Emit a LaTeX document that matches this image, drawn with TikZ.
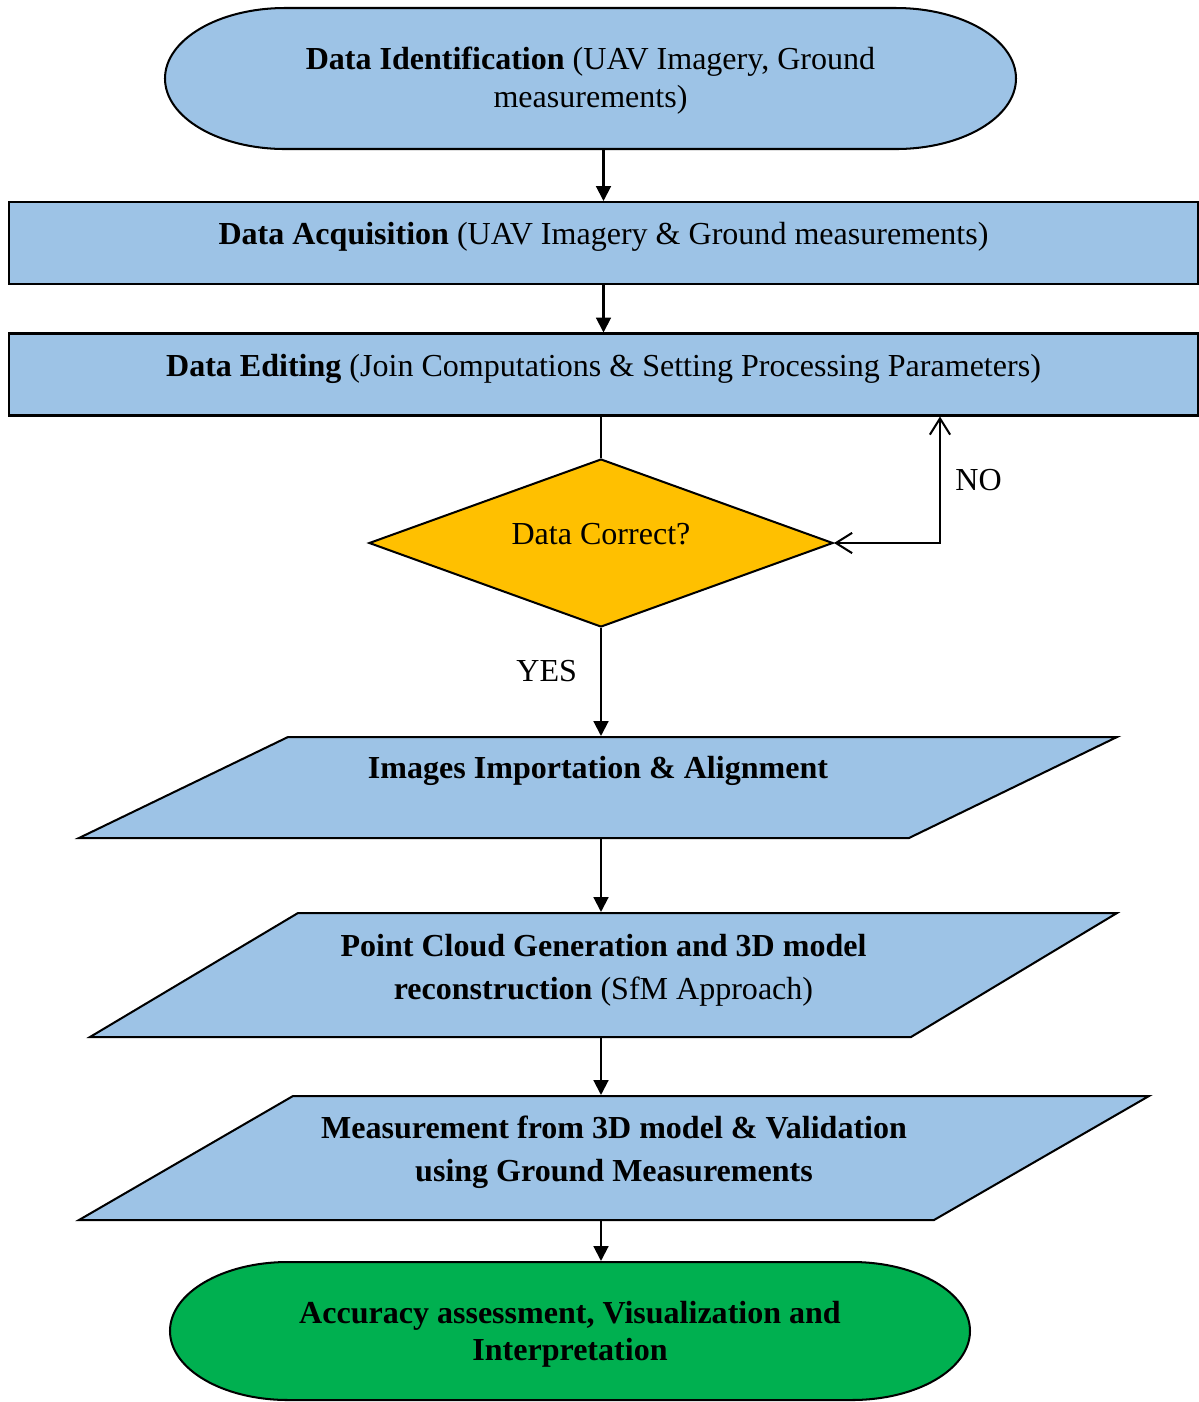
\documentclass[tikz,border=0pt]{standalone}
\usepackage{fontspec}
\setmainfont{Liberation Serif}
\usepackage{xcolor}
\usetikzlibrary{arrows.meta,positioning,shapes.geometric}
\definecolor{boxblue}{HTML}{9DC3E6}
\definecolor{endgreen}{HTML}{00B050}
\definecolor{askgold}{HTML}{FFC000}

\begin{document}
\begin{tikzpicture}[x=0.013cm,y=-0.013cm,line width=0.75pt,
    font=\fontsize{11.85}{13.8}\selectfont]
	\tikzstyle{item}
	  =[draw, fill=boxblue, rectangle, minimum width=15.457cm,
	  minimum height=1.066cm, inner sep=0pt, text centered, text depth=7pt]
	\tikzstyle{decision}
	  =[draw, fill=askgold, diamond, aspect=2.76, minimum width=6.032cm,
	  minimum height=2.184cm, inner sep=0pt, text centered, text depth=6.8pt]
	\tikzstyle{label}
	  =[inner sep=0pt, align=center]
	\tikzstyle{wide}
	  =[font=\fontsize{11.85}{15.9}\selectfont]
	\tikzstyle{flow}
	  =[-{Triangle[length=5.5pt,width=5.5pt]}]
	\tikzstyle{back}
	  =[{Straight Barb[length=6pt,width=7.5pt]}-{Straight Barb[length=6pt,width=7.5pt]}]

	\useasboundingbox (0,0) rectangle (1199,1402);

	% start
	\filldraw[fill=boxblue] (285,8) -- (896,8)
	  arc[start angle=90, end angle=-90, x radius=1.56cm, y radius=0.9165cm]
	  -- (285,149)
	  arc[start angle=270, end angle=90, x radius=1.56cm, y radius=0.9165cm]
	  -- cycle;
	\node[label] (A)
	  at (590.5,78.5) [minimum height=1.833cm, text depth=0.9pt]
	  {\textbf{Data Identification} (UAV Imagery, Ground\\measurements)};

	\node[item] (B)
	  at (603.5,243) {\textbf{Data Acquisition} (UAV Imagery \& Ground measurements)};
	\node[item] (C)
	  at (603.5,374.5) {\textbf{Data Editing} (Join Computations \& Setting Processing Parameters)};
	\node[decision] (D)
	  at (601,543) {Data Correct?};

	% parallelograms
	\filldraw[fill=boxblue] (79,838) -- (288,737) -- (1117,737) -- (909,838) -- cycle;
	\node[label] (E)
	  at (598,787.5) [minimum height=1.313cm, text depth=15.2pt]
	  {\textbf{Images Importation \& Alignment}};
	\filldraw[fill=boxblue] (90,1037) -- (298,913) -- (1117,913) -- (911,1037) -- cycle;
	\node[label, wide] (F)
	  at (603.5,975) [minimum height=1.612cm, text depth=6pt]
	  {\textbf{Point Cloud Generation and 3D model}\\\textbf{reconstruction} (SfM Approach)};
	\filldraw[fill=boxblue] (79,1220) -- (293,1096) -- (1149,1096) -- (934,1220) -- cycle;
	\node[label, wide] (G)
	  at (614,1158) [minimum height=1.612cm, text depth=6.6pt]
	  {\textbf{Measurement from 3D model \& Validation}\\\textbf{using Ground Measurements}};

	% end
	\filldraw[fill=endgreen] (288,1262) -- (852,1262)
	  arc[start angle=90, end angle=-90, x radius=1.534cm, y radius=0.897cm]
	  -- (288,1400)
	  arc[start angle=270, end angle=90, x radius=1.534cm, y radius=0.897cm]
	  -- cycle;
	\node[label] (H)
	  at (570,1331) [minimum height=1.794cm, text depth=0.3pt]
	  {\textbf{Accuracy assessment, Visualization and}\\\textbf{Interpretation}};

	\coordinate (K) at (940,543);

	\draw[flow] (A.south -| B.north) -- (B.north);
	\draw[flow] (B) -- (C);
	\draw (C.south -| D.north) -- (D.north);
	\draw[back] (D.east) -- (K) -- node[right=2pt] {NO} (K |- C.south);
	\draw[flow] (D.south) -- node[pos=0.4, left=5.2pt] {YES} (D.south |- E.north);
	\draw[flow] (E.south -| D.south) -- (F.north -| D.south);
	\draw[flow] (F.south -| D.south) -- (G.north -| D.south);
	\draw[flow] (G.south -| D.south) -- (H.north -| D.south);
\end{tikzpicture}
\end{document}
